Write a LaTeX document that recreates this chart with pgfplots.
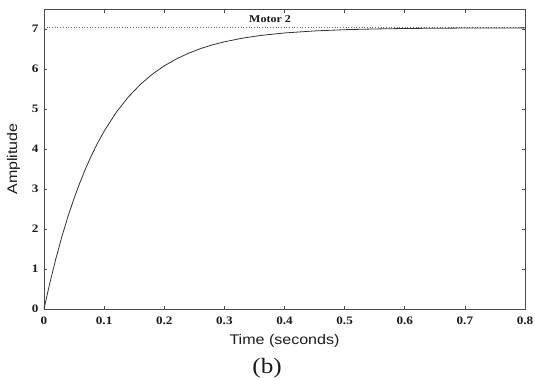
\documentclass[border=0pt]{standalone}
\usepackage{fontspec}
\setmainfont{Liberation Serif}[FakeStretch=1.15]
\newfontfamily\labelfont{Liberation Sans}[FakeStretch=1.15]
\usepackage{pgfplots}
\pgfplotsset{compat=1.18}
\definecolor{axgray}{HTML}{4A4A4A}
\definecolor{txt}{HTML}{1A1A1A}
\begin{document}
\begin{tikzpicture}
\path[use as bounding box] (-44bp,-72bp) rectangle (491bp,309bp);
\begin{axis}[
  at={(0,0)}, anchor=south west,
  scale only axis, width=481bp, height=300bp,
  xmin=0, xmax=0.8, ymin=0, ymax=7.5,
  xtick={0,0.1,...,0.8}, ytick={0,1,...,7},
  xticklabels={0,0.1,0.2,0.3,0.4,0.5,0.6,0.7,0.8},
  tick align=inside, major tick length=3.5bp,
  axis line style={axgray, line width=0.8bp},
  every tick/.style={axgray, line width=0.6bp},
  tick label style={font=\fontsize{11.5}{11.5}\selectfont\bfseries, text=txt},
  /pgf/number format/assume math mode=true,
  xticklabel style={yshift=-4bp},
  yticklabel style={xshift=-2bp},
  xlabel={Time (seconds)}, ylabel={Amplitude},
  label style={font=\labelfont\fontsize{14}{14}\selectfont, text=txt},
  x label style={at={(axis description cs:0.5,0)}, anchor=center, yshift=-32bp},
  y label style={at={(axis description cs:0,0.5)}, anchor=center, yshift=30.5bp},
  clip=false,
]
\addplot[black!60, line width=0.7bp, dotted] coordinates {(0,7.03) (0.8,7.03)};
\addplot[black!80, line width=0.8bp] coordinates {
(0,0) (0.01,0.669) (0.02,1.274) (0.03,1.822) (0.04,2.318) (0.05,2.766)
(0.06,3.172) (0.07,3.539) (0.08,3.871) (0.09,4.172) (0.10,4.444)
(0.12,4.913) (0.14,5.296) (0.16,5.611) (0.18,5.868) (0.20,6.079)
(0.22,6.251) (0.24,6.392) (0.26,6.508) (0.28,6.603) (0.30,6.680)
(0.33,6.771) (0.36,6.838) (0.40,6.901) (0.45,6.952) (0.50,6.983)
(0.55,7.001) (0.60,7.013) (0.65,7.019) (0.70,7.024) (0.75,7.026) (0.80,7.028)
};
\node[font=\fontsize{10.5}{10.5}\selectfont\bfseries, text=txt] at (axis cs:0.376,7.26) {Motor 2};
\node[font=\fontsize{22}{22}\selectfont, text=txt] at (axis description cs:0.464,0) [yshift=-59bp] {(b)};
\end{axis}
\end{tikzpicture}
\end{document}
